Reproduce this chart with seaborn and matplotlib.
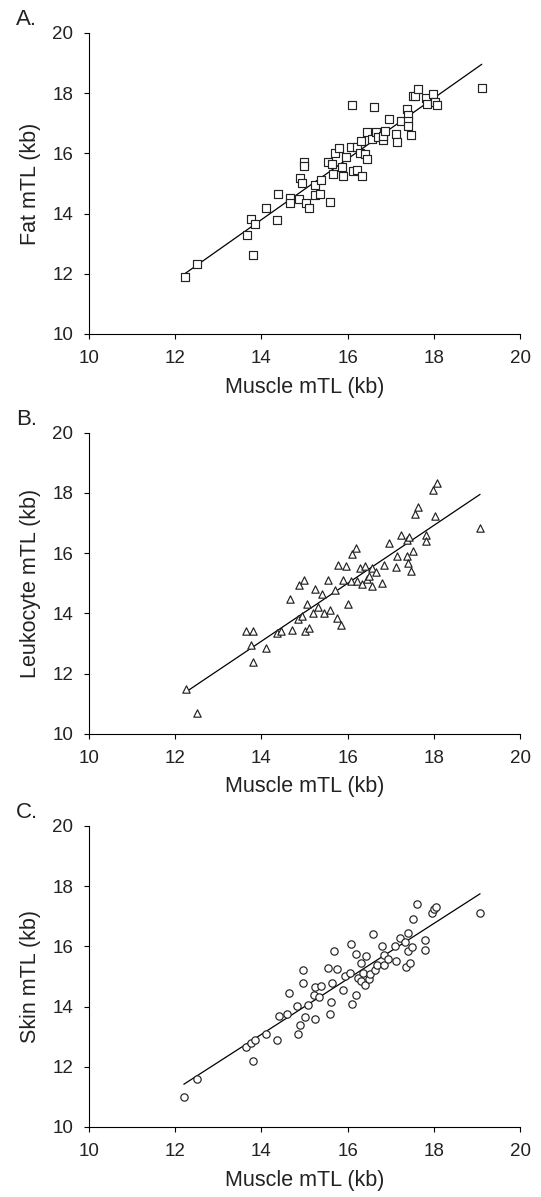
import numpy as np
import pandas as pd
import matplotlib
matplotlib.use('Agg')
import matplotlib.pyplot as plt
import seaborn as sns

sns.set_style('ticks')
plt.rcParams['font.family'] = ['Liberation Sans', 'DejaVu Sans']

# panel A: muscle vs fat
muscle_a = [12.23, 12.51, 13.66, 13.75, 13.80, 13.84, 14.10, 14.35, 14.39, 14.66, 14.66, 14.86,
            14.90, 14.93, 14.99, 14.99, 15.03, 15.11, 15.24, 15.24, 15.36, 15.38, 15.55, 15.59,
            15.64, 15.67, 15.71, 15.79, 15.86, 15.90, 15.96, 16.08, 16.09, 16.13, 16.21, 16.21,
            16.29, 16.31, 16.34, 16.40, 16.44, 16.44, 16.56, 16.60, 16.65, 16.71, 16.81, 16.83,
            16.87, 16.96, 17.12, 17.15, 17.23, 17.37, 17.41, 17.41, 17.41, 17.47, 17.51, 17.56,
            17.63, 17.81, 17.84, 17.97, 18.03, 18.07, 19.11]
fat = [11.88, 12.31, 13.29, 13.81, 12.62, 13.64, 14.18, 13.79, 14.64, 14.51, 14.34, 14.47,
       15.19, 15.01, 15.72, 15.58, 14.34, 14.18, 14.94, 14.62, 14.64, 15.12, 15.70, 14.40,
       15.65, 15.31, 16.02, 16.17, 15.54, 15.26, 15.89, 16.20, 17.61, 15.42, 15.45, 16.20,
       16.02, 16.41, 15.25, 15.97, 15.81, 16.72, 16.48, 17.55, 16.72, 16.53, 16.45, 16.59,
       16.75, 17.14, 16.64, 16.39, 17.09, 17.48, 17.28, 17.08, 16.92, 16.61, 17.92, 17.92,
       18.14, 17.85, 17.64, 17.96, 17.72, 17.61, 18.18]

# panel B: muscle vs leukocyte
muscle_b = [12.25, 12.50, 13.65, 13.75, 13.80, 13.80, 14.10, 14.35, 14.45, 14.66, 14.70, 14.86,
            14.85, 14.93, 14.99, 15.00, 15.05, 15.10, 15.20, 15.24, 15.30, 15.40, 15.45, 15.55,
            15.60, 15.71, 15.75, 15.77, 15.85, 15.88, 15.96, 16.00, 16.08, 16.09, 16.19, 16.21,
            16.29, 16.33, 16.40, 16.44, 16.50, 16.56, 16.56, 16.66, 16.80, 16.85, 16.96, 17.12,
            17.14, 17.23, 17.37, 17.42, 17.37, 17.41, 17.47, 17.51, 17.56, 17.63, 17.81, 17.81,
            18.03, 17.97, 18.07, 19.07]
leuko = [11.50, 10.70, 13.40, 12.95, 13.40, 12.40, 12.85, 13.35, 13.40, 14.47, 13.45, 14.94,
         13.80, 13.90, 15.12, 13.40, 14.30, 13.50, 14.00, 14.80, 14.20, 14.63, 14.00, 15.12,
         14.10, 14.79, 13.85, 15.62, 13.60, 15.10, 15.57, 14.30, 15.07, 15.98, 16.17, 15.07,
         15.51, 14.96, 15.57, 15.13, 15.25, 14.91, 15.49, 15.37, 15.02, 15.62, 16.33, 15.54,
         15.89, 16.61, 16.45, 16.53, 15.89, 15.67, 15.40, 16.07, 17.31, 17.53, 16.61, 16.39,
         17.22, 18.11, 18.33, 16.83]

# panel C: muscle vs skin
muscle_c = [12.20, 12.50, 13.65, 13.75, 13.85, 13.80, 14.10, 14.35, 14.40, 14.60, 14.65, 14.83,
            14.85, 14.90, 14.96, 14.97, 15.00, 15.09, 15.22, 15.24, 15.25, 15.34, 15.38, 15.54,
            15.60, 15.61, 15.63, 15.68, 15.75, 15.90, 15.94, 16.06, 16.07, 16.10, 16.20, 16.19,
            16.25, 16.30, 16.31, 16.35, 16.40, 16.42, 16.50, 16.52, 16.58, 16.64, 16.68, 16.79,
            16.84, 16.84, 16.94, 17.10, 17.12, 17.21, 17.33, 17.35, 17.40, 17.40, 17.44, 17.48,
            17.52, 17.60, 17.79, 17.79, 17.95, 18.00, 18.05, 19.07]
skin = [11.00, 11.60, 12.65, 12.80, 12.90, 12.20, 13.10, 12.90, 13.70, 13.75, 14.46, 14.03,
        13.10, 13.40, 14.77, 15.22, 13.65, 14.05, 14.39, 14.66, 13.60, 14.33, 14.69, 15.29,
        13.75, 14.14, 14.79, 15.85, 15.24, 14.55, 15.03, 15.11, 16.07, 14.10, 14.40, 15.74,
        14.96, 14.85, 15.46, 15.11, 14.70, 15.69, 14.90, 15.08, 16.41, 15.22, 15.38, 16.02,
        15.71, 15.38, 15.58, 16.01, 15.51, 16.27, 16.14, 15.33, 16.46, 15.86, 15.44, 15.99,
        16.90, 17.41, 16.21, 15.88, 17.12, 17.24, 17.32, 17.12]

ticks = [10, 12, 14, 16, 18, 20]

panels = [
    ('A.', muscle_a, fat, 'Fat mTL (kb)', 's', 0.721),
    ('B.', muscle_b, leuko, 'Leukocyte mTL (kb)', '^', 0.387),
    ('C.', muscle_c, skin, 'Skin mTL (kb)', 'o', 0.0585),
]

fig = plt.figure(figsize=(5.41, 11.97), dpi=100)

for letter, xs, ys, ylab, mk, bottom in panels:
    ax = fig.add_axes([0.1645, bottom, 0.797, 0.2515])
    df = pd.DataFrame({'x': xs, 'y': ys})
    sns.regplot(data=df, x='x', y='y', ax=ax, ci=None, truncate=True, color='black',
                marker=mk,
                scatter_kws={'s': 28, 'facecolors': 'white', 'edgecolors': '#222222',
                             'linewidths': 0.85, 'alpha': 1, 'zorder': 3},
                line_kws={'color': 'black', 'linewidth': 0.9, 'zorder': 2})
    ax.set_xlim(10, 20)
    ax.set_ylim(10, 20)
    ax.set_xticks(ticks)
    ax.set_yticks(ticks)
    ax.tick_params(direction='out', length=3.5, width=0.8, labelsize=13.5, pad=8,
                   color='black', labelcolor='#222222')
    for side in ['top', 'right']:
        ax.spines[side].set_visible(False)
    for side in ['left', 'bottom']:
        ax.spines[side].set_linewidth(0.8)
        ax.spines[side].set_color('black')
    ax.set_xlabel('Muscle mTL (kb)', fontsize=15.5, labelpad=7, color='#222222')
    ax.set_ylabel(ylab, fontsize=15.5, labelpad=8, color='#222222')
    top_px = (1 - (bottom + 0.2515)) * 1197
    fig.text(16 / 541, 1 - (top_px - 24) / 1197, letter, fontsize=16, ha='left', va='top',
             color='#222222')

fig.savefig('out.png', dpi=100)
